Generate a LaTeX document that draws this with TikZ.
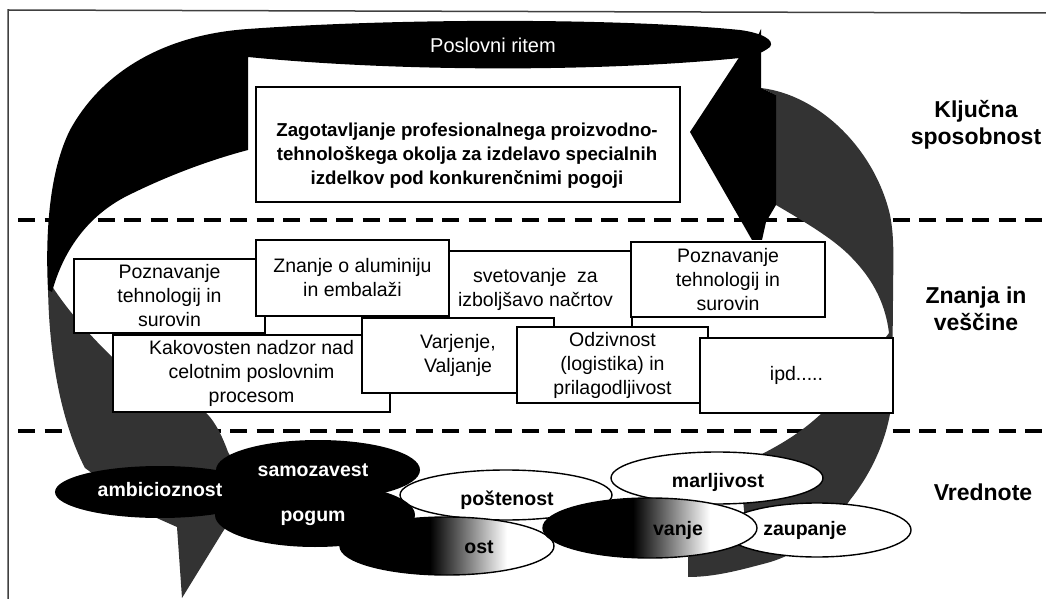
\documentclass[tikz,border=0pt]{standalone}
\usepackage{fontspec}
\setmainfont{Liberation Sans}
\pgfdeclarehorizontalshading{bwfade}{100bp}{color(0bp)=(black); color(46bp)=(black); color(64bp)=(white); color(100bp)=(white)}
\tikzset{
  frameline/.style={line width=1.5bp, draw=black!75},
  sepline/.style={line width=3.5bp, dash pattern=on 17bp off 9.5bp},
  darkfill/.style={fill=black!80},
  box/.style={draw=black, line width=1.4bp, fill=white, align=center, inner sep=0pt,
              font=\fontsize{19.5bp}{24bp}\selectfont},
  bigtxt/.style={align=center, font=\bfseries\fontsize{18.7bp}{24bp}\selectfont},
  lbl/.style={align=center, font=\bfseries\fontsize{23bp}{26.7bp}\selectfont},
  ellw/.style={fill=white, draw=black, line width=1.4bp},
  ellline/.style={draw=black, line width=1.4bp},
  etw/.style={text=white, font=\bfseries\fontsize{19.5bp}{22bp}\selectfont},
  etb/.style={text=black, font=\bfseries\fontsize{19.5bp}{22bp}\selectfont},
}
\begin{document}
\begin{tikzpicture}[x=1bp,y=-1bp]
\useasboundingbox (0,0) rectangle (1046,599);
% frame
\draw[frameline] (8,599) -- (8,10) -- (1046,13);
% dashed separators
\draw[sepline] (18,220) -- (1046,220);
\draw[sepline] (18,431) -- (1046,431);
% left lower dark arc
\fill[darkfill] (48,280) .. controls (48,350) and (60,420) .. (85,468) -- (150,515) -- (177,527) -- (182,598) -- (222,533) -- (250,490) -- (228,452) .. controls (220,430) and (212,418) .. (205,412) -- (140,412) -- (113,358) .. controls (95,340) and (70,315) .. (48,280) -- cycle;
% right dark arc and bottom band
\fill[darkfill] (761,88) .. controls (820,95) and (875,150) .. (890,215) .. controls (895,240) and (893,265) .. (893,300) -- (892,400) .. controls (888,440) and (870,475) .. (850,500) .. controls (830,530) and (800,555) .. (763,564) .. controls (740,570) and (715,577) .. (688,577) -- (688,557) -- (745,520) -- (740,470) -- (760,455) .. controls (790,440) and (810,425) .. (825,410) -- (880,345) -- (889,333) .. controls (885,300) and (870,275) .. (847,253) .. controls (830,237) and (805,222) .. (776,205) -- (776,95) -- cycle;
% black hook and top band
\fill[black] (248,29) .. controls (400,18) and (620,18) .. (740,30) .. controls (762,33) and (775,40) .. (770,47) .. controls (760,55) and (748,57) .. (740,58) .. controls (600,72) and (400,72) .. (248,57) -- (248,150) .. controls (210,160) and (170,175) .. (133,193) .. controls (85,215) and (62,255) .. (52,292) -- (48,290) .. controls (45,230) and (50,170) .. (70,130) .. controls (100,75) and (160,35) .. (248,29) -- cycle;
% black arrowhead
\fill[black] (740,56) -- (690,132) -- (752,240) -- (762,240) -- (766,222) -- (776,205) -- (776,95) -- (761,88) -- (761,29) -- (756,40) -- cycle;
\node[text=white, font=\fontsize{20bp}{22bp}\selectfont] (ritem) at (493,45) {Poslovni ritem};
% key competence box
\node[draw=black, line width=1.4bp, fill=white, minimum width=424bp, minimum height=115bp, inner sep=0pt] (kbox) at (468,144.5) {};
\node[bigtxt] (ktxt) at (467,156) {Zagotavljanje profesionalnega proizvodno-\\tehnološkega okolja za izdelavo specialnih\\izdelkov pod konkurenčnimi pogoji};
% knowledge boxes
\node[box, minimum width=193bp, minimum height=76bp] (bC) at (535.5,289) {svetovanje\ \ za\\izboljšavo načrtov};
\node[box, minimum width=191bp, minimum height=74bp] (bA) at (169.5,296) {Poznavanje\\tehnologij in\\surovin};
\node[box, minimum width=193bp, minimum height=76bp] (bB) at (352.5,278) {Znanje o aluminiju\\in embalaži};
\node[box, minimum width=277bp, minimum height=77bp] (bE) at (251.5,373.5) {Kakovosten nadzor nad\\celotnim poslovnim\\procesom};
\node[box, minimum width=192bp, minimum height=75bp] (bV) at (458,355.5) {Varjenje,\\Valjanje};
\node[box, minimum width=194bp, minimum height=75bp] (bD) at (728,279.5) {Poznavanje\\tehnologij in\\surovin};
\node[box, minimum width=191bp, minimum height=76bp] (bO) at (612.5,365) {Odzivnost\\(logistika) in\\prilagodljivost};
\node[box, minimum width=193bp, minimum height=75bp] (bI) at (796.5,375.5) {ipd.....};
% values ellipses
\filldraw[ellw] (717,478) ellipse [x radius=106bp, y radius=26bp];
\filldraw[ellw] (817,530) ellipse [x radius=94bp, y radius=27bp];
\filldraw[ellw] (506,495) ellipse [x radius=106bp, y radius=25bp];
\fill[black] (160,492) ellipse [x radius=105bp, y radius=26bp];
\fill[black] (318,470) ellipse [x radius=102bp, y radius=30bp];
\fill[black] (315,515) ellipse [x radius=100bp, y radius=32bp];
\shade[shading=bwfade] (447,546) ellipse [x radius=107bp, y radius=29bp];
\draw[ellline] (447,546) ellipse [x radius=107bp, y radius=29bp];
\shade[shading=bwfade] (650,528) ellipse [x radius=107bp, y radius=30bp];
\draw[ellline] (650,528) ellipse [x radius=107bp, y radius=30bp];
\node[etw] (t1) at (160,490) {ambicioznost};
\node[etw] (t2) at (313,470) {samozavest};
\node[etw] (t3) at (313,518) {pogum};
\node[etb] (t4) at (507,500) {poštenost};
\node[etb] (t5) at (718,482) {marljivost};
\node[etb] (t6) at (805,530) {zaupanje};
\node[etb] (t7) at (479,547) {ost};
\node[etb] (t8) at (678,530) {vanje};
% level labels
\node[lbl] (l1) at (976,125) {Ključna\\sposobnost};
\node[lbl] (l2) at (976,309) {Znanja in\\veščine};
\node[lbl] (l3) at (983,492) {Vrednote};
\end{tikzpicture}
\end{document}
